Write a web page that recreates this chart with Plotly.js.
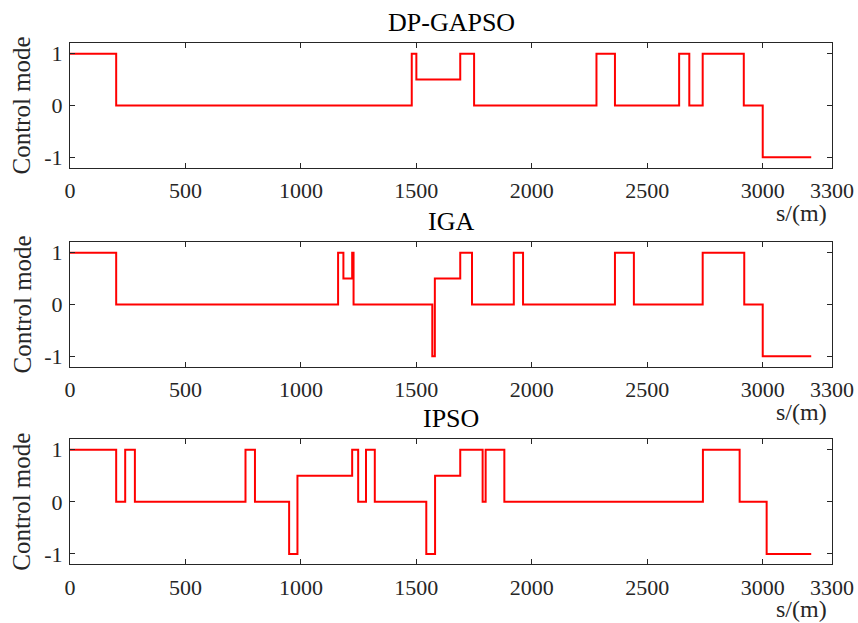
<!DOCTYPE html>
<html><head><meta charset="utf-8">
<script src="https://cdn.plot.ly/plotly-3.0.1.min.js"></script>
<style>html,body{margin:0;padding:0;background:#fff}</style>
</head><body><div id="chart" style="width:858px;height:623px"></div>
<script>
// Titles of the three panels
const panelTitles = ["DP-GAPSO", "IGA", "IPSO"];
// Tick labels
const xTicks = [0, 500, 1000, 1500, 2000, 2500, 3000, 3300];
const yTicks = [-1, 0, 1];

// DP-GAPSO: switch positions (m) and control mode held from each position
const dpS    = [0, 200, 1480, 1500, 1690, 1750, 2280, 2360, 2638, 2682, 2740, 2918, 3000, 3210];
const dpMode = [1, 0,   1,    0.5,  1,    0,    1,    0,    1,    0,    1,    0,    -1,   -1];

// IGA
const igaS    = [0, 200, 1161, 1184, 1222, 1228, 1569, 1580, 1690, 1741, 1922, 1962, 2360, 2442, 2740, 2920, 3000, 3210];
const igaMode = [1, 0,   1,    0.5,  1,    0,    -1,   0.5,  1,    0,    1,    0,    1,    0,    1,    0,    -1,   -1];

// IPSO
const ipsoS    = [0, 200, 239, 281, 760, 801, 949, 985, 1222, 1248, 1282, 1320, 1543, 1581, 1690, 1787, 1800, 1881, 2741, 2900, 3017, 3210];
const ipsoMode = [1, 0,   1,   0,   1,   0,   -1,  0.5, 1,    0,    1,    0,    -1,   0.5,  1,    0,    1,    0,    1,    0,    -1,   -1];

const series = [[dpS, dpMode], [igaS, igaMode], [ipsoS, ipsoMode]];
const domains = [[0.7308, 0.9305], [0.4114, 0.6111], [0.0942, 0.2949]];
const FONT = "Liberation Serif";
const AX = "#262626";

const data = series.map((s, i) => ({
  x: s[0], y: s[1], type: "scatter", mode: "lines",
  line: {shape: "hv", color: "#ff0000", width: 2},
  xaxis: i === 0 ? "x" : "x" + (i + 1),
  yaxis: i === 0 ? "y" : "y" + (i + 1),
  hoverinfo: "skip", showlegend: false
}));

const layout = {
  width: 858, height: 623,
  margin: {l: 70, r: 26, t: 0, b: 0},
  paper_bgcolor: "#fff", plot_bgcolor: "#fff",
  font: {family: FONT, size: 22, color: AX},
  showlegend: false,
  annotations: []
};

for (let i = 0; i < 3; i++) {
  const xk = i === 0 ? "xaxis" : "xaxis" + (i + 1);
  const yk = i === 0 ? "yaxis" : "yaxis" + (i + 1);
  const yid = i === 0 ? "y" : "y" + (i + 1);
  const xid = i === 0 ? "x" : "x" + (i + 1);
  layout[xk] = {
    domain: [0, 1], anchor: yid, range: [0, 3300],
    tickmode: "array", tickvals: xTicks, ticktext: xTicks.map(String),
    ticks: "inside", ticklen: 5, tickcolor: AX, tickwidth: 1,
    showline: true, linecolor: AX, linewidth: 1, mirror: "ticks",
    showgrid: false, zeroline: false, ticklabelstandoff: 3,
    tickfont: {family: FONT, size: 22, color: AX}
  };
  layout[yk] = {
    domain: domains[i], anchor: xid, range: [-1.2, 1.2],
    tickmode: "array", tickvals: yTicks, ticktext: ["-1", "0", "1"],
    ticks: "inside", ticklen: 5, tickcolor: AX, tickwidth: 1,
    showline: true, linecolor: AX, linewidth: 1, mirror: "ticks",
    showgrid: false, zeroline: false, ticklabelstandoff: 2,
    tickfont: {family: FONT, size: 22, color: AX}
  };
  layout.annotations.push({
    text: panelTitles[i], xref: "paper", yref: "paper",
    x: 0.5, y: domains[i][1], yshift: 4, xanchor: "center", yanchor: "bottom",
    showarrow: false, font: {family: FONT, size: 26, color: "#000"}
  });
  layout.annotations.push({
    text: "Control mode", xref: "paper", yref: "paper", textangle: -90,
    x: 0, xshift: -48, y: (domains[i][0] + domains[i][1]) / 2,
    xanchor: "center", yanchor: "middle",
    showarrow: false, font: {family: FONT, size: 25, color: AX}
  });
  layout.annotations.push({
    text: "s/(m)", xref: "paper", yref: "paper",
    x: 0.9606, y: domains[i][0], yshift: -45, xanchor: "center", yanchor: "middle",
    showarrow: false, font: {family: FONT, size: 24, color: AX}
  });
}

Plotly.newPlot("chart", data, layout, {displayModeBar: false, staticPlot: true});
</script></body></html>
